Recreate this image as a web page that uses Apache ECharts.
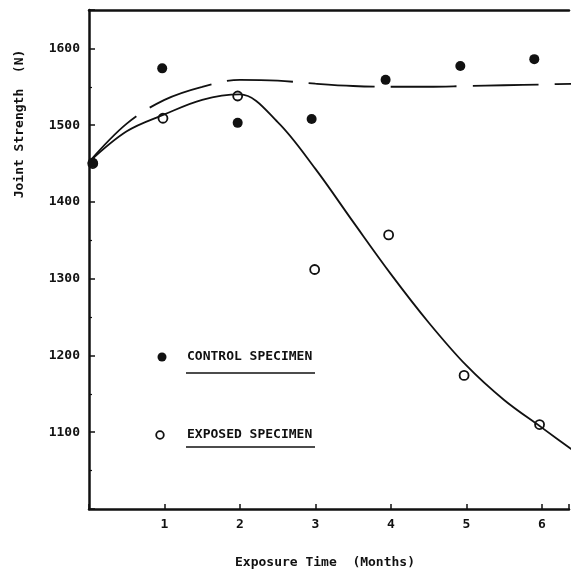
<!DOCTYPE html>
<html lang="en">
<head>
    <meta charset="UTF-8">
    <title>Joint Strength</title>
    <script src="https://cdn.jsdelivr.net/npm/echarts@6/dist/echarts.min.js"></script>
    <style>
        html, body {margin: 0; padding: 0; background: #fff;}
    </style>
</head>
<body>
<div id="main" style="width:572px;height:578px;"></div>
<script>
    // points
    var controlX = [0.05, 0.97, 1.97, 2.95, 3.93, 4.92, 5.9];
    var controlY = [1451, 1574, 1503, 1508, 1559, 1577, 1586];
    var exposedX = [0.05, 0.98, 1.97, 2.99, 3.97, 4.97, 5.97];
    var exposedY = [1450, 1509, 1538, 1312, 1357, 1174, 1110];

    // fitted curves (traced)
    var controlFitX = [0, 0.5, 1.0, 1.5, 2.0, 2.5, 3.0, 3.5, 4.0, 4.5, 5.0, 5.5, 6.0, 6.5];
    var controlFitY = [1452, 1502, 1533, 1550, 1559, 1558, 1554, 1551, 1550, 1550, 1551, 1552, 1553, 1554];
    var exposedFitX = [0, 0.5, 1.0, 1.5, 2.0, 2.5, 3.0, 3.5, 4.0, 4.5, 5.0, 5.5, 6.0, 6.5];
    var exposedFitY = [1452, 1492, 1514, 1533, 1540, 1504, 1443, 1374, 1306, 1243, 1187, 1142, 1106, 1070];

    var xTicks = [1, 2, 3, 4, 5, 6];
    var yTicks = [1100, 1200, 1300, 1400, 1500, 1600];

    function pairs(xs, ys) {
        return xs.map(function (x, i) { return [x, ys[i]]; });
    }

    var font = '"DejaVu Sans Mono", monospace';
    var ink = '#111';

    var myChart = echarts.init(document.getElementById('main'));
    myChart.setOption({
        animation: false,
        grid: {left: 89, right: 0, top: 10, bottom: 69},
        xAxis: [{
            type: 'value',
            min: 0,
            max: 6.36,
            interval: 1,
            axisLine: {lineStyle: {color: ink, width: 2.5}},
            axisTick: {inside: true, length: 5, lineStyle: {color: ink, width: 1.5}},
            axisLabel: {
                margin: 9,
                fontFamily: font, fontWeight: 'bold', fontSize: 13, color: ink,
                formatter: function (v) { return xTicks.indexOf(v) >= 0 ? String(v) : ''; }
            },
            splitLine: {show: false}
        }, {
            type: 'value',
            position: 'top',
            min: 0,
            max: 6.36,
            axisLine: {show: true, lineStyle: {color: ink, width: 2.5}},
            axisTick: {show: false},
            axisLabel: {show: false},
            splitLine: {show: false}
        }],
        yAxis: {
            type: 'value',
            min: 1000,
            max: 1650,
            interval: 100,
            axisLine: {show: true, lineStyle: {color: ink, width: 2.5}},
            axisTick: {inside: true, length: 6, lineStyle: {color: ink, width: 1.5}},
            minorTick: {show: true, splitNumber: 2, length: 3, lineStyle: {color: ink, width: 1.2}},
            axisLabel: {
                margin: 9,
                fontFamily: font, fontWeight: 'bold', fontSize: 13, color: ink,
                formatter: function (v) { return yTicks.indexOf(v) >= 0 ? String(v) : ''; }
            },
            splitLine: {show: false}
        },
        series: [
            {
                name: 'Control fit',
                type: 'line',
                smooth: 0.35,
                showSymbol: false,
                data: pairs(controlFitX, controlFitY),
                lineStyle: {color: ink, width: 1.8, type: [66, 16]}
            },
            {
                name: 'Exposed fit',
                type: 'line',
                smooth: 0.35,
                showSymbol: false,
                data: pairs(exposedFitX, exposedFitY),
                lineStyle: {color: ink, width: 1.8}
            },
            {
                name: 'EXPOSED SPECIMEN',
                type: 'scatter',
                symbol: 'circle',
                symbolSize: 9,
                data: pairs(exposedX, exposedY),
                itemStyle: {color: '#fff', borderColor: ink, borderWidth: 1.8, opacity: 1}
            },
            {
                name: 'CONTROL SPECIMEN',
                type: 'scatter',
                symbol: 'circle',
                symbolSize: 10,
                data: pairs(controlX, controlY),
                itemStyle: {color: ink, opacity: 1}
            }
        ],
        graphic: [
            // axis titles
            {type: 'text', x: 20, y: 124, rotation: Math.PI / 2,
                style: {text: 'Joint Strength  (N)', font: 'bold 13px ' + font, fill: ink,
                    align: 'center', verticalAlign: 'middle'}},
            {type: 'text', x: 325, y: 563,
                style: {text: 'Exposure Time  (Months)', font: 'bold 13px ' + font, fill: ink,
                    align: 'center', verticalAlign: 'middle'}},
            // legend
            {type: 'circle', shape: {cx: 162, cy: 357, r: 4.5}, style: {fill: ink}},
            {type: 'text', x: 187, y: 357,
                style: {text: 'CONTROL SPECIMEN', font: 'bold 13px ' + font, fill: ink, verticalAlign: 'middle'}},
            {type: 'line', shape: {x1: 186, y1: 373, x2: 315, y2: 373}, style: {stroke: ink, lineWidth: 1.5}},
            {type: 'circle', shape: {cx: 160, cy: 435, r: 3.8}, style: {fill: '#fff', stroke: ink, lineWidth: 1.8}},
            {type: 'text', x: 187, y: 435,
                style: {text: 'EXPOSED SPECIMEN', font: 'bold 13px ' + font, fill: ink, verticalAlign: 'middle'}},
            {type: 'line', shape: {x1: 186, y1: 447, x2: 315, y2: 447}, style: {stroke: ink, lineWidth: 1.5}}
        ]
    });
</script>
</body>
</html>
